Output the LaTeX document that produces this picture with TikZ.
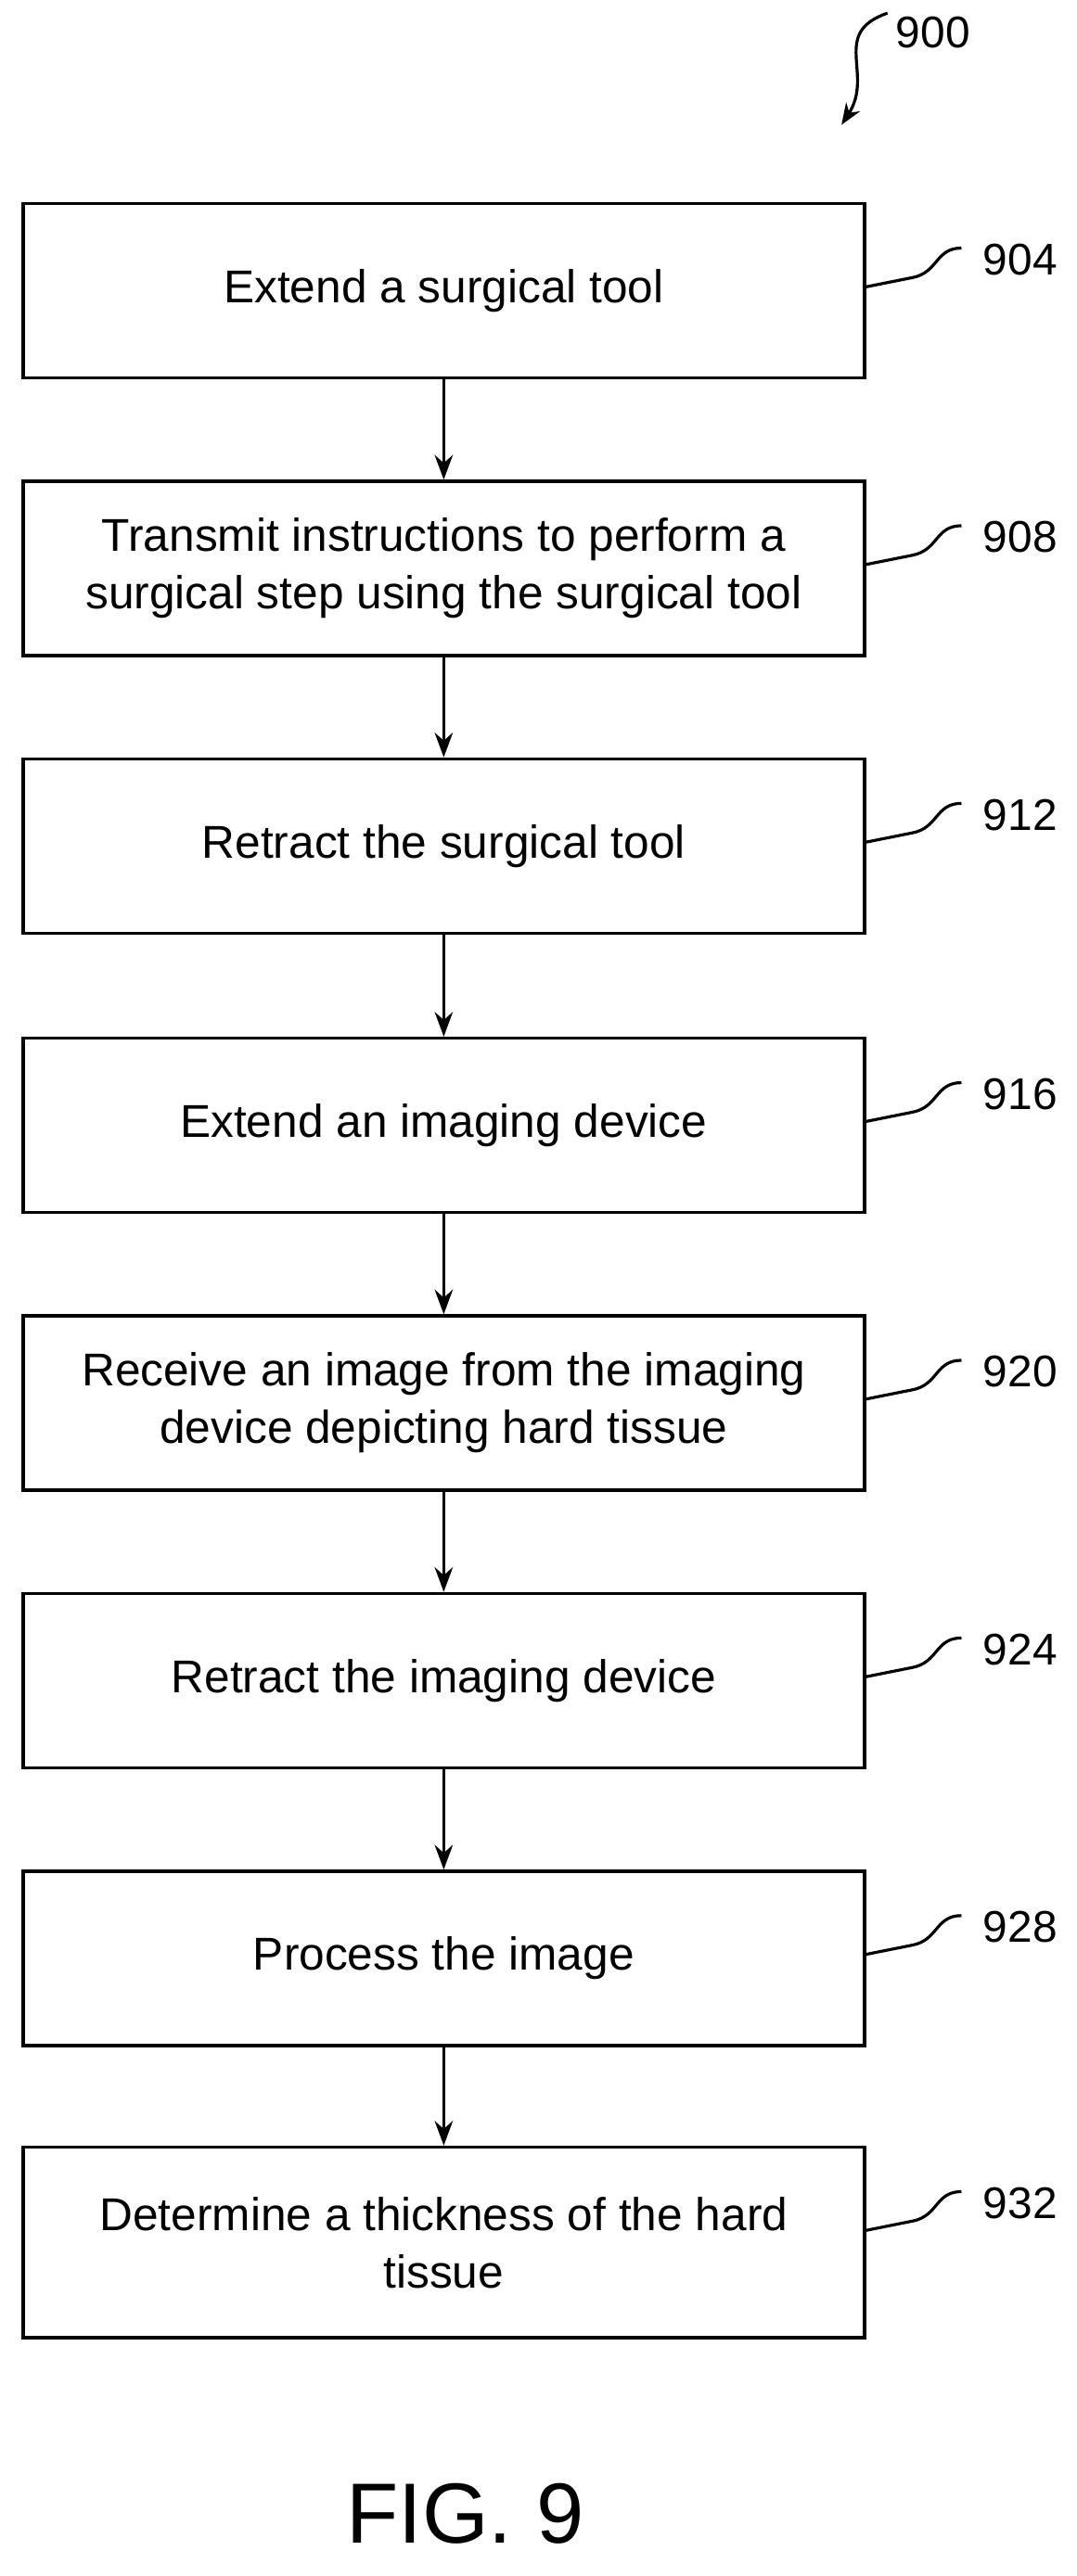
\documentclass[tikz,border=0pt]{standalone}
\usepackage{fontspec}
\setmainfont{Liberation Sans}
\usetikzlibrary{arrows.meta}
\begin{document}
\begin{tikzpicture}[x=1pt,y=-1pt,
 box/.style={draw,line width=2pt,minimum width=512pt,minimum height=106pt,align=center,font=\fontsize{28}{35}\selectfont,anchor=north west,inner sep=0pt},
 lbl/.style={font=\fontsize{27}{30}\selectfont,anchor=west,inner sep=0pt},
 sq/.style={line width=1.8pt},
 ar/.style={line width=2pt,-{Stealth[length=15pt,width=11pt]}}]
\useasboundingbox (0,0) rectangle (655,1568);
\node[box] (b1) at (13,123) {Extend a surgical tool};
\node[box] (b2) at (13,292) {Transmit instructions to perform a\\surgical step using the surgical tool};
\node[box] (b3) at (13,461) {Retract the surgical tool};
\node[box] (b4) at (13,631) {Extend an imaging device};
\node[box] (b5) at (13,800) {Receive an image from the imaging\\device depicting hard tissue};
\node[box] (b6) at (13,969) {Retract the imaging device};
\node[box] (b7) at (13,1138) {Process the image};
\node[box,minimum height=116pt] (b8) at (13,1306) {Determine a thickness of the hard\\tissue};
\foreach \a/\b in {b1/b2,b2/b3,b3/b4,b4/b5,b5/b6,b6/b7,b7/b8}
  \draw[ar] (\a.south) -- (\b.north);
\foreach \t/\n/\l in {123/1/904,292/2/908,461/3/912,631/4/916,800/5/920,969/6/924,1138/7/928,1306/8/932}{
  \coordinate (s\n) at (525,\t+52);
  \draw[sq] (s\n) -- ++(30,-6) .. controls +(16,-3) and +(-16,0) .. ++(30,-18);
  \node[lbl] (l\n) at (598,\t+35) {\l};
}
\node[lbl] (l0) at (545,20) {900};
\coordinate (c0) at (540,8);
\coordinate (c1) at (512,76);
\draw[line width=1.8pt,-{Stealth[length=13pt,width=10pt]}] (c0) .. controls (505,20) and (532,45) .. (c1);
\node[font=\fontsize{52}{60}\selectfont] (fig) at (283,1530) {FIG. 9};
\end{tikzpicture}
\end{document}
